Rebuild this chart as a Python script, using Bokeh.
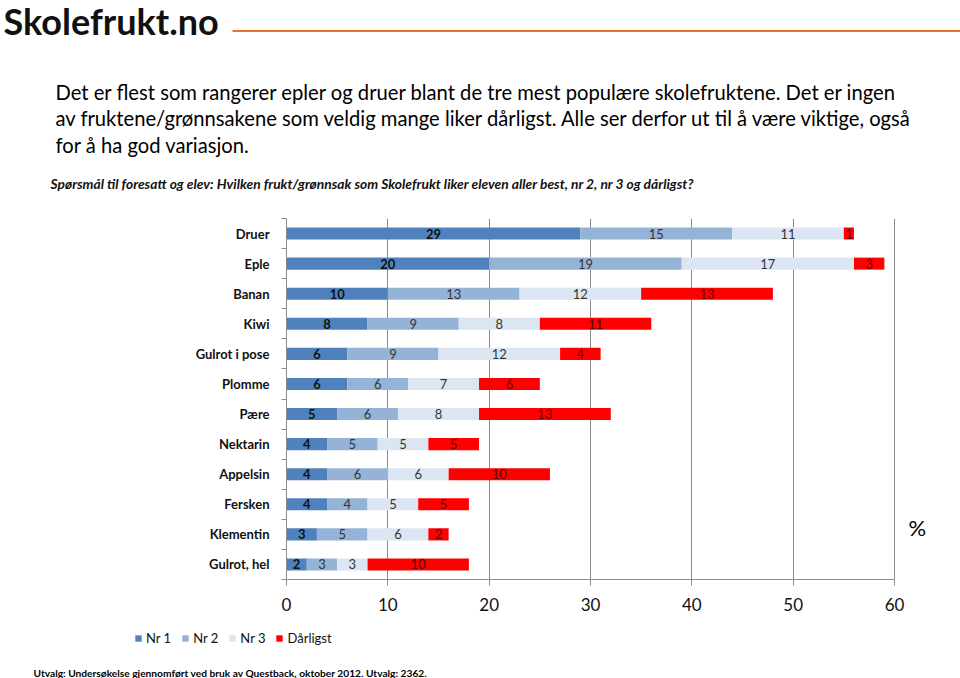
from bokeh.plotting import figure
from bokeh.layouts import column
from bokeh.models import (ColumnDataSource, Range1d, FixedTicker, Label, Legend,
                          LegendItem, BoxAnnotation)
from bokeh.core.properties import value
from bokeh.embed import file_html
from bokeh.resources import INLINE

# ---------------- data ----------------
categories = ["Druer", "Eple", "Banan", "Kiwi", "Gulrot i pose", "Plomme", "Pære",
              "Nektarin", "Appelsin", "Fersken", "Klementin", "Gulrot, hel"]
nr1 = [29, 20, 10, 8, 6, 6, 5, 4, 4, 4, 3, 2]
nr2 = [15, 19, 13, 9, 9, 6, 6, 5, 6, 4, 5, 3]
nr3 = [11, 17, 12, 8, 12, 7, 8, 5, 6, 5, 6, 3]
darligst = [1, 3, 13, 11, 4, 6, 13, 5, 10, 5, 2, 10]
series_names = ["Nr 1", "Nr 2", "Nr 3", "Dårligst"]
x_ticks = [0, 10, 20, 30, 40, 50, 60]

title_lines = [
    "Det er flest som rangerer epler og druer blant de tre mest populære skolefruktene. Det er ingen",
    "av fruktene/grønnsakene som veldig mange liker dårligst. Alle ser derfor ut til å være viktige, også",
    "for å ha god variasjon.",
]
subtitle = "Spørsmål  til foresatt og elev: Hvilken frukt/grønnsak som Skolefrukt liker eleven aller best, nr 2, nr 3 og dårligst?"
footer = "Utvalg: Undersøkelse gjennomført ved bruk av Questback, oktober 2012. Utvalg: 2362."
logo = "Skolefrukt.no"

colors = ["#4F81BD", "#95B3D7", "#DCE6F2", "#FF0000"]
FONT = "Lato"
W = 960
H_TOP, H_CHART, H_FOOT = 205, 417, 56

# ---------------- header ----------------
top = figure(width=W, height=H_TOP, output_backend="svg", toolbar_location=None,
             x_range=Range1d(0, W), y_range=Range1d(H_TOP, 0),
             x_axis_type=None, y_axis_type=None, min_border=0, frame_align=False)
top.outline_line_color = None
top.grid.visible = False
top.add_layout(Label(x=3, y=20, text=logo, text_font=FONT, text_font_size="36px",
                     text_font_style="bold", text_color="#111111",
                     text_baseline="alphabetic"))
top.add_layout(BoxAnnotation(left=232, right=W, top=29.5, bottom=31.5,
                             fill_color="#E8702A", fill_alpha=1, line_color=None))
for i, line in enumerate(title_lines):
    top.add_layout(Label(x=55, y=91 + 26.5 * i, text=line, text_font=FONT,
                         text_font_size="20.2px", text_color="#000000",
                         text_baseline="alphabetic"))
top.add_layout(Label(x=50, y=183, text=subtitle, text_font=FONT,
                     text_font_size="13.8px", text_font_style="bold italic",
                     text_color="#111111", text_baseline="alphabetic"))

# ---------------- chart ----------------
n = len(categories)
ypos = [n - 0.5 - i for i in range(n)]
series = [nr1, nr2, nr3, darligst]
keys = ["nr1", "nr2", "nr3", "darl"]
data = {"y": ypos, "cat": categories}
for k, s in zip(keys, series):
    data[k] = s
src = ColumnDataSource(data)

px_per_unit = (894 - 286) / 60.0
x_max = (W - 286) / px_per_unit

p = figure(width=W, height=H_CHART, output_backend="svg", toolbar_location=None,
           x_range=Range1d(0, x_max), y_range=Range1d(0, n),
           min_border_left=286, min_border_right=0, min_border_top=13,
           min_border_bottom=H_CHART - 13 - 361, frame_align=False)
p.outline_line_color = None

renderers = p.hbar_stack(keys, y="y", height=0.4, color=colors, source=src,
                         line_color=None)

for j, k in enumerate(keys):
    mids = []
    for i in range(n):
        left = sum(series[m][i] for m in range(j))
        mids.append(left + series[j][i] / 2)
    lsrc = ColumnDataSource(dict(x=mids, y=ypos, t=[str(v) for v in series[j]]))
    p.text(x="x", y="y", text="t", source=lsrc, text_align="center",
           text_baseline="middle", text_font=value(FONT),
           text_font_size="13px",
           text_font_style="bold" if j == 0 else "normal",
           text_color=["#111111", "#333333", "#333333", "#5a0000"][j])

p.xaxis.ticker = FixedTicker(ticks=x_ticks)
p.xaxis.bounds = (0, 60)
p.xaxis.major_tick_out = 6
p.xaxis.major_tick_in = 0
p.xaxis.minor_tick_out = 0
p.xaxis.minor_tick_in = 0
p.xaxis.axis_line_color = "#8c8c8c"
p.xaxis.major_tick_line_color = "#8c8c8c"
p.xaxis.major_label_text_font = FONT
p.xaxis.major_label_text_font_size = "17px"
p.xaxis.major_label_text_color = "#111111"
p.xaxis.major_label_standoff = 12

bounds = list(range(0, n + 1))
p.yaxis.ticker = FixedTicker(ticks=ypos, minor_ticks=bounds)
p.yaxis.major_label_overrides = {y: c for y, c in zip(ypos, categories)}
p.yaxis.major_tick_out = 0
p.yaxis.major_tick_in = 0
p.yaxis.minor_tick_out = 5
p.yaxis.minor_tick_in = 0
p.yaxis.axis_line_color = "#8c8c8c"
p.yaxis.minor_tick_line_color = "#8c8c8c"
p.yaxis.major_label_text_font = FONT
p.yaxis.major_label_text_font_size = "13px"
p.yaxis.major_label_text_font_style = "bold"
p.yaxis.major_label_text_color = "#111111"
p.yaxis.major_label_standoff = 12

p.xgrid.ticker = FixedTicker(ticks=x_ticks[1:])
p.xgrid.grid_line_color = "#8c8c8c"
p.ygrid.grid_line_color = None

p.add_layout(Label(x=622, y=52, x_units="screen", y_units="screen", text="%",
                   text_font=FONT, text_font_size="22px", text_color="#000000",
                   text_baseline="alphabetic"))

# ---------------- footer ----------------
bot = figure(width=W, height=H_FOOT, output_backend="svg", toolbar_location=None,
             x_range=Range1d(0, W), y_range=Range1d(H_FOOT, 0),
             x_axis_type=None, y_axis_type=None, min_border=0, frame_align=False)
bot.outline_line_color = None
bot.grid.visible = False
# zero-size stand-ins so that the legend can show each series' colour swatch
dummies = [bot.hbar(y=[0], left=[0], right=[0], height=0, fill_color=c, line_color=None)
           for c in colors]
legend = Legend(items=[LegendItem(label=nm, renderers=[r]) for nm, r in zip(series_names, dummies)],
                orientation="horizontal", location=(134, H_FOOT - 24),
                glyph_width=8, glyph_height=8, label_standoff=4, spacing=10,
                padding=0, margin=0, border_line_color=None, background_fill_alpha=0,
                label_text_font=FONT, label_text_font_size="13px", label_height=16,
                label_text_color="#111111")
bot.add_layout(legend)
bot.add_layout(Label(x=33, y=50, text=footer, text_font=FONT, text_font_size="10.2px",
                     text_font_style="bold", text_color="#000000",
                     text_baseline="alphabetic"))

layout = column(top, p, bot, spacing=0)
open("out.html", "w").write(file_html(layout, INLINE))
